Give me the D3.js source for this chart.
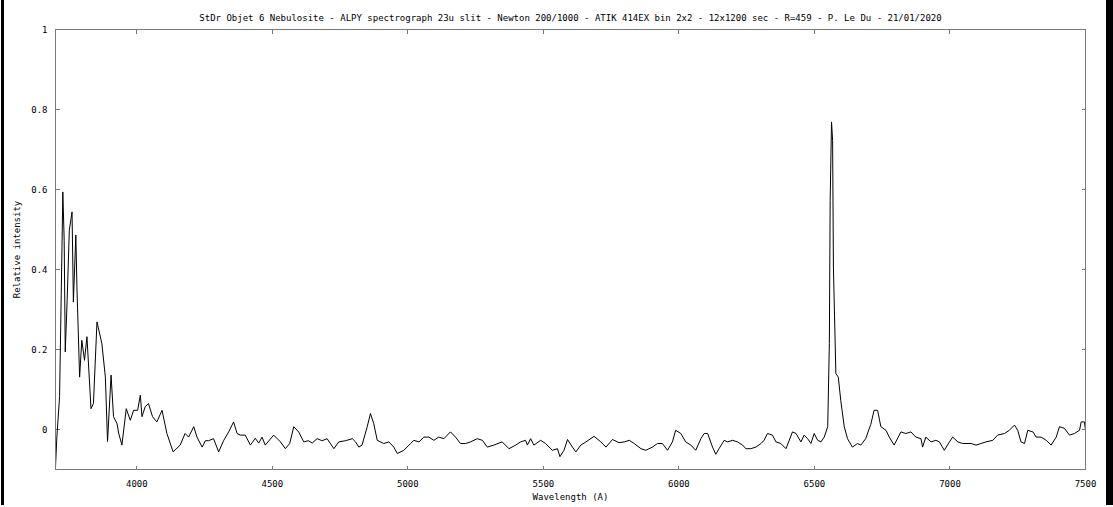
<html>
<head>
<meta charset="utf-8">
<title>Spectrum</title>
<script src="https://d3js.org/d3.v7.min.js"></script>
<style>
  body { margin: 0; background: #fff; }
  text { font-family: "DejaVu Sans Mono", monospace; font-size: 9px; fill: #000; }
</style>
</head>
<body>
<script>
    var width = 1113,
        height = 507,
        margin = {top: 29.5, right: 27.5, bottom: 37.5, left: 55.5},
        frameColor = "#7a7a7a",
        lineColor = "#000";

    var titleText = "StDr Objet 6 Nebulosite - ALPY spectrograph 23u slit - Newton 200/1000 - ATIK 414EX bin 2x2 - 12x1200 sec - R=459 - P. Le Du - 21/01/2020";
    var xLabel = "Wavelength (A)",
        yLabel = "Relative intensity";

    var xTicks = [4000, 4500, 5000, 5500, 6000, 6500, 7000, 7500];
    var yTicks = [0, 0.2, 0.4, 0.6, 0.8, 1];
    var yTickLabels = ["0", "0.2", "0.4", "0.6", "0.8", "1"];

    // wavelength (A)
    var wavelength = [
        3700, 3705, 3715, 3724, 3727, 3732, 3736, 3743, 3751, 3761, 3766, 3775, 3779, 3789, 3797, 3807,
        3816, 3831, 3840, 3853, 3871, 3884, 3892, 3905, 3914, 3927, 3933, 3945, 3961, 3976, 3988, 4003,
        4013, 4019, 4031, 4043, 4058, 4074, 4093, 4111, 4134, 4160, 4178, 4191, 4210, 4222, 4241, 4253,
        4265, 4283, 4302, 4320, 4339, 4357, 4370, 4382, 4400, 4419, 4437, 4450, 4462, 4474, 4505, 4530,
        4548, 4564, 4579, 4597, 4616, 4633, 4647, 4665, 4684, 4702, 4727, 4745, 4770, 4795, 4807, 4819,
        4831, 4850, 4862, 4874, 4887, 4911, 4930, 4948, 4961, 4985, 5010, 5022, 5041, 5059, 5077, 5096,
        5114, 5133, 5157, 5176, 5194, 5213, 5231, 5256, 5275, 5293, 5317, 5348, 5373, 5398, 5416, 5434,
        5441, 5453, 5465, 5490, 5508, 5533, 5552, 5561, 5576, 5589, 5607, 5620, 5638, 5657, 5687, 5712,
        5731, 5755, 5779, 5798, 5817, 5835, 5860, 5878, 5902, 5921, 5939, 5958, 5976, 5988, 6007, 6025,
        6044, 6062, 6081, 6093, 6106, 6124, 6136, 6148, 6167, 6179, 6198, 6216, 6235, 6247, 6265, 6284,
        6303, 6314, 6327, 6345, 6358, 6376, 6395, 6419, 6432, 6450, 6462, 6475, 6487, 6499, 6512, 6524,
        6536, 6549, 6555, 6558, 6563, 6567, 6570, 6579, 6588, 6597, 6610, 6622, 6640, 6659, 6671, 6689,
        6708, 6720, 6733, 6745, 6764, 6776, 6794, 6819, 6837, 6856, 6874, 6893, 6899, 6911, 6930, 6948,
        6961, 6979, 6998, 7010, 7029, 7047, 7078, 7096, 7114, 7133, 7158, 7176, 7201, 7219, 7238, 7250,
        7262, 7275, 7287, 7306, 7318, 7336, 7355, 7373, 7392, 7404, 7422, 7441, 7459, 7478, 7484, 7496,
        7500
    ];

    // relative intensity at each wavelength
    var intensity = [
        -0.094, -0.019, 0.082, 0.457, 0.594, 0.473, 0.194, 0.323, 0.498, 0.544, 0.319, 0.486, 0.357, 0.131, 0.223, 0.173,
        0.232, 0.052, 0.065, 0.269, 0.215, 0.131, -0.030, 0.136, 0.032, 0.015, -0.009, -0.039, 0.052, 0.023, 0.048, 0.048,
        0.086, 0.032, 0.057, 0.065, 0.032, 0.019, 0.048, -0.010, -0.056, -0.039, -0.010, -0.019, 0.007, -0.019, -0.044, -0.028,
        -0.028, -0.023, -0.056, -0.028, -0.006, 0.019, -0.010, -0.014, -0.014, -0.039, -0.022, -0.034, -0.019, -0.039, -0.014, -0.031,
        -0.048, -0.035, 0.007, -0.006, -0.031, -0.028, -0.034, -0.023, -0.028, -0.023, -0.048, -0.031, -0.028, -0.023, -0.031, -0.044,
        -0.039, 0.007, 0.040, 0.015, -0.027, -0.035, -0.031, -0.044, -0.060, -0.052, -0.035, -0.027, -0.031, -0.019, -0.019, -0.027,
        -0.019, -0.023, -0.006, -0.019, -0.035, -0.035, -0.031, -0.023, -0.027, -0.044, -0.039, -0.031, -0.048, -0.039, -0.031, -0.027,
        -0.039, -0.023, -0.039, -0.027, -0.035, -0.052, -0.048, -0.068, -0.052, -0.025, -0.044, -0.056, -0.039, -0.031, -0.017, -0.031,
        -0.044, -0.025, -0.033, -0.031, -0.027, -0.035, -0.048, -0.052, -0.044, -0.035, -0.035, -0.052, -0.031, -0.002, -0.010, -0.031,
        -0.039, -0.052, -0.023, -0.010, -0.010, -0.044, -0.062, -0.048, -0.027, -0.031, -0.027, -0.031, -0.039, -0.048, -0.048, -0.044,
        -0.035, -0.027, -0.010, -0.014, -0.031, -0.035, -0.048, -0.006, -0.010, -0.031, -0.014, -0.023, -0.035, -0.010, -0.027, -0.031,
        -0.019, 0.007, 0.215, 0.573, 0.769, 0.723, 0.406, 0.140, 0.131, 0.073, 0.007, -0.023, -0.044, -0.035, -0.039, -0.023,
        0.013, 0.048, 0.048, 0.007, -0.002, -0.019, -0.039, -0.006, -0.010, -0.006, -0.019, -0.023, -0.044, -0.019, -0.031, -0.027,
        -0.031, -0.052, -0.031, -0.019, -0.031, -0.035, -0.035, -0.039, -0.035, -0.031, -0.027, -0.014, -0.010, -0.002, 0.011, -0.002,
        -0.031, -0.035, -0.002, -0.006, -0.019, -0.019, -0.027, -0.039, -0.019, 0.007, 0.003, -0.014, -0.010, -0.002, 0.019, 0.019,
        -0.002
    ];

    var points = wavelength.map(function (w, i) {
        return {w: w, v: intensity[i]};
    });

    var svg = d3.select("body").append("svg")
        .attr("width", width)
        .attr("height", height);

    svg.append("rect")
        .attr("width", width)
        .attr("height", height)
        .attr("fill", "#fff");

    // black edges of the screenshot
    svg.append("rect").attr("x", 1).attr("y", 0).attr("width", 3).attr("height", 505).attr("fill", "#000");
    svg.append("rect").attr("x", 1106).attr("y", 0).attr("width", 7).attr("height", 505).attr("fill", "#000");

    var x = d3.scaleLinear()
        .domain([3700, 7500])
        .range([margin.left, width - margin.right]);

    var y = d3.scaleLinear()
        .domain([-0.1, 1])
        .range([height - margin.bottom, margin.top]);

    var x0 = x.range()[0], x1 = x.range()[1],
        y0 = y.range()[0], y1 = y.range()[1];

    // ticks on all four sides, pointing in (gnuplot style)
    var tickLen = 4;
    var ticks = svg.append("g")
        .attr("stroke", frameColor)
        .attr("shape-rendering", "crispEdges");

    xTicks.forEach(function (t) {
        ticks.append("line").attr("x1", x(t)).attr("x2", x(t)).attr("y1", y0).attr("y2", y0 - tickLen);
        ticks.append("line").attr("x1", x(t)).attr("x2", x(t)).attr("y1", y1).attr("y2", y1 + tickLen);
    });
    yTicks.forEach(function (t) {
        ticks.append("line").attr("x1", x0).attr("x2", x0 + tickLen).attr("y1", y(t)).attr("y2", y(t));
        ticks.append("line").attr("x1", x1).attr("x2", x1 - tickLen).attr("y1", y(t)).attr("y2", y(t));
    });

    // spectrum
    var line = d3.line()
        .x(function (d) { return x(d.w); })
        .y(function (d) { return y(d.v); });

    svg.append("path")
        .datum(points)
        .attr("fill", "none")
        .attr("stroke", lineColor)
        .attr("stroke-width", 1)
        .attr("d", line);

    // frame
    svg.append("rect")
        .attr("x", x0)
        .attr("y", y1)
        .attr("width", x1 - x0)
        .attr("height", y0 - y1)
        .attr("fill", "none")
        .attr("stroke", frameColor)
        .attr("shape-rendering", "crispEdges");

    // tick labels
    svg.selectAll(".xlab").data(xTicks).enter().append("text")
        .attr("class", "xlab")
        .attr("x", function (d) { return x(d); })
        .attr("y", y0 + 17)
        .attr("text-anchor", "middle")
        .text(function (d) { return d; });

    svg.selectAll(".ylab").data(yTicks).enter().append("text")
        .attr("class", "ylab")
        .attr("x", x0 - 8)
        .attr("y", function (d) { return y(d) + 3; })
        .attr("text-anchor", "end")
        .text(function (d, i) { return yTickLabels[i]; });

    svg.append("text")
        .attr("x", (x0 + x1) / 2)
        .attr("y", 21)
        .attr("text-anchor", "middle")
        .text(titleText);

    svg.append("text")
        .attr("x", (x0 + x1) / 2)
        .attr("y", 500)
        .attr("text-anchor", "middle")
        .text(xLabel);

    svg.append("text")
        .attr("transform", "translate(20," + ((y0 + y1) / 2) + ") rotate(-90)")
        .attr("text-anchor", "middle")
        .text(yLabel);
</script>
</body>
</html>
